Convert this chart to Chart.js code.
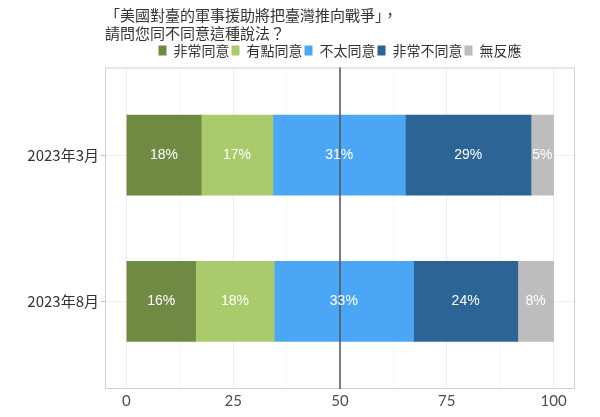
<!DOCTYPE html>
<html>
<head>
<meta charset="utf-8">
<script src="https://cdn.jsdelivr.net/npm/chart.js@4/dist/chart.umd.min.js"></script>
<style>
  html, body { margin: 0; padding: 0; background: #fff; }
  #wrap { width: 600px; height: 417px; }
</style>
</head>
<body>
<div id="wrap"><canvas id="survey"></canvas></div>
<script>
var periods = ['2023年3月', '2023年8月'];
var responses = ['非常同意', '有點同意', '不太同意', '非常不同意', '無反應'];
var agreeStrong = [17.5, 16.2];
var agreeSome = [16.8, 18.4];
var disagreeSome = [31.0, 32.6];
var disagreeStrong = [29.4, 24.4];
var noAnswer = [5.3, 8.4];
var xTicks = [0, 25, 50, 75, 100];
var colors = ['#718a43', '#a9cb6b', '#4ca6f6', '#2c6495', '#bdbdbd'];
var questionText = ['「美國對臺的軍事援助將把臺灣推向戰爭」，', '請問您同不同意這種說法？'];

var series = [agreeStrong, agreeSome, disagreeSome, disagreeStrong, noAnswer];
var cjk = "'Noto Sans CJK TC', 'Noto Sans', sans-serif";

var datasets = series.map(function(vals, i) {
  return {
    label: responses[i],
    data: vals.map(function(v, j) { return {x: v, y: j + 1}; }),
    backgroundColor: colors[i],
    borderWidth: 0,
    barThickness: 80
  };
});

// panel border + the 50% line
var panel = {
  id: 'panel',
  afterDatasetsDraw: function(chart) {
    var ctx = chart.ctx, a = chart.chartArea;
    var x = chart.scales.x.getPixelForValue(50);
    ctx.save();
    ctx.strokeStyle = '#cfcfcf';
    ctx.lineWidth = 1;
    ctx.strokeRect(a.left + 0.5, a.top + 0.5, a.right - a.left - 1, a.bottom - a.top - 1);
    ctx.strokeStyle = '#555555';
    ctx.lineWidth = 1.5;
    ctx.beginPath();
    ctx.moveTo(x, a.top);
    ctx.lineTo(x, a.bottom);
    ctx.stroke();
    ctx.restore();
  }
};

var segLabels = {
  id: 'segLabels',
  afterDatasetsDraw: function(chart) {
    var ctx = chart.ctx;
    ctx.save();
    ctx.font = '14px "Liberation Sans", Arial, sans-serif';
    ctx.fillStyle = '#ffffff';
    ctx.textAlign = 'center';
    ctx.textBaseline = 'middle';
    chart.data.datasets.forEach(function(ds, i) {
      chart.getDatasetMeta(i).data.forEach(function(bar, j) {
        var c = bar.getCenterPoint();
        ctx.fillText(Math.round(ds.data[j].x) + '%', c.x, c.y);
      });
    });
    ctx.restore();
  }
};

window.onload = function() {
  var ctx = document.getElementById('survey').getContext('2d');
  window.surveyChart = new Chart(ctx, {
    type: 'bar',
    data: { datasets: datasets },
    plugins: [panel, segLabels],
    options: {
      indexAxis: 'y',
      responsive: true,
      maintainAspectRatio: false,
      animation: false,
      events: [],
      layout: { padding: { left: 0, right: 25, top: 1, bottom: 0 } },
      plugins: {
        title: {
          display: true,
          text: questionText,
          align: 'start',
          fullSize: false,
          color: '#333333',
          font: { family: cjk, size: 15, weight: 'normal', lineHeight: 1.15 },
          padding: { top: 6, bottom: 0 }
        },
        legend: {
          position: 'top',
          fullSize: false,
          labels: {
            boxWidth: 8,
            boxHeight: 10,
            padding: 2,
            color: '#333333',
            font: { family: cjk, size: 14 }
          }
        },
        tooltip: { enabled: false }
      },
      scales: {
        x: {
          type: 'linear',
          stacked: true,
          min: -5,
          max: 105,
          afterFit: function(s) { s.height = 28; },
          ticks: {
            stepSize: 12.5,
            includeBounds: false,
            autoSkip: false,
            maxRotation: 0,
            padding: 3,
            color: '#4d4d4d',
            font: { family: "Lato, 'Noto Sans', sans-serif", size: 15 },
            callback: function(v) { return xTicks.indexOf(v) >= 0 ? String(v) : ''; }
          },
          grid: {
            drawTicks: false,
            color: function(c) { return c.tick && c.tick.value % 25 === 0 ? '#ebebeb' : '#f5f5f5'; }
          },
          border: { display: false }
        },
        y: {
          type: 'linear',
          stacked: true,
          reverse: true,
          offset: false,
          min: 0.4,
          max: 2.6,
          afterFit: function(s) { s.width = 105; },
          ticks: {
            stepSize: 1,
            includeBounds: false,
            padding: 2,
            color: '#333333',
            font: { family: cjk, size: 15 },
            callback: function(v) { return periods[v - 1]; }
          },
          grid: { offset: false, color: '#f0f0f0', tickLength: 4, tickColor: '#bdbdbd' },
          border: { display: false }
        }
      }
    }
  });
};
</script>
</body>
</html>
